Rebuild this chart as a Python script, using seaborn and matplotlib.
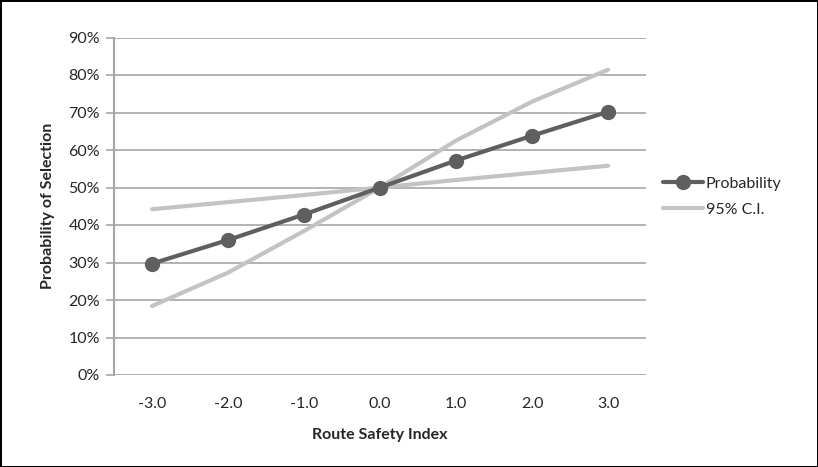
import numpy as np
import pandas as pd
import seaborn as sns
import matplotlib.pyplot as plt
from matplotlib.ticker import PercentFormatter

# data
safety_index = [-3.0, -2.0, -1.0, 0.0, 1.0, 2.0, 3.0]
probability = [0.297, 0.360, 0.428, 0.500, 0.572, 0.638, 0.702]
ci_narrow = [0.442, 0.461, 0.480, 0.500, 0.520, 0.539, 0.558]
ci_wide = [0.184, 0.273, 0.384, 0.500, 0.625, 0.729, 0.814]
y_ticks = [0, 0.1, 0.2, 0.3, 0.4, 0.5, 0.6, 0.7, 0.8, 0.9]

df = pd.DataFrame({'x': safety_index, 'prob': probability,
                   'ci_lo': ci_narrow, 'ci_hi': ci_wide})

sns.set_style('white')
plt.rcParams['font.family'] = ['Lato', 'DejaVu Sans']

dark = '#5f5f61'
light = '#c3c3c3'
grid = '#a6a6a6'

fig = plt.figure(figsize=(8.18, 4.67), dpi=100, linewidth=2, edgecolor='black')
ax = fig.add_axes([114 / 818, 1 - 375 / 467, (646 - 114) / 818, (375 - 37.5) / 467])

sns.lineplot(data=df, x='x', y='ci_hi', ax=ax, color=light, lw=3, label='95% C.I.', zorder=2)
sns.lineplot(data=df, x='x', y='ci_lo', ax=ax, color=light, lw=3, zorder=2)
sns.lineplot(data=df, x='x', y='prob', ax=ax, color=dark, lw=3, marker='o',
             markersize=11, markeredgewidth=0, label='Probability', zorder=3)

ax.set_xlim(-3.5, 3.5)
ax.set_ylim(0, 0.9)
ax.set_yticks(y_ticks)
ax.yaxis.set_major_formatter(PercentFormatter(1.0, decimals=0))
ax.set_xticks(safety_index)
ax.set_xticklabels(['%.1f' % v for v in safety_index])
ax.yaxis.grid(True, color=grid, lw=1.2)
ax.set_axisbelow(True)

for s in ['top', 'right', 'bottom']:
    ax.spines[s].set_visible(False)
ax.spines['left'].set_color(grid)
ax.spines['left'].set_linewidth(1.5)
ax.tick_params(axis='y', length=6, color=grid, width=1.2, labelsize=11.5, pad=4, left=True)
ax.tick_params(axis='x', length=0, labelsize=11.5, pad=16)

ax.set_xlabel('Route Safety Index', fontsize=11.5, fontweight='bold', labelpad=12)
ax.set_ylabel('Probability of Selection', fontsize=11.5, fontweight='bold', labelpad=10)

h, l = ax.get_legend_handles_labels()
ax.legend([h[1], h[0]], [l[1], l[0]], loc='upper left', bbox_to_anchor=(649 / 818, 1 - 162 / 467),
          bbox_transform=fig.transFigure, frameon=False, fontsize=11.5,
          handlelength=2.5, handletextpad=0.15, labelspacing=0.75)

fig.savefig('out.png', dpi=100, edgecolor='black')
